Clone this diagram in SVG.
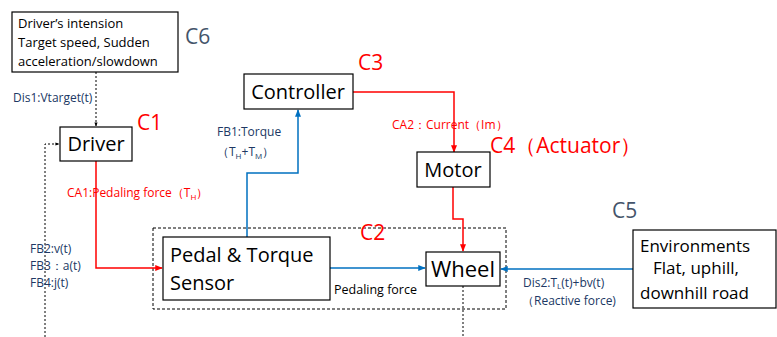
<svg xmlns="http://www.w3.org/2000/svg" width="777" height="337" viewBox="0 0 777 337">
<style>
text{font-family:"Open Sans","Noto Sans","Liberation Sans",sans-serif;}
.box{fill:#fff;stroke:#000;stroke-width:1.2}
.nt{font-size:20px;fill:#000}
.ct{font-size:13px;fill:#000}
.cr{font-size:21px;fill:#ff0000}
.cg{font-size:21px;fill:#44546a}
.lr{font-size:12px;fill:#ff0000}
.lb{font-size:12px;fill:#203864}
.lk{font-size:12.5px;fill:#000}
.red{fill:none;stroke:#ff0000;stroke-width:1.5}
.blue{fill:none;stroke:#0070c0;stroke-width:1.5}
.dot{fill:none;stroke:#000;stroke-width:1;stroke-dasharray:2,2}
</style>
<defs>
<marker id="ar" viewBox="0 0 10 10" refX="9" refY="5" markerWidth="5" markerHeight="5" orient="auto"><path d="M0,1 L10,5 L0,9 z" fill="#ff0000"/></marker>
<marker id="ab" viewBox="0 0 10 10" refX="9" refY="5" markerWidth="5" markerHeight="5" orient="auto"><path d="M0,1 L10,5 L0,9 z" fill="#0070c0"/></marker>
<marker id="ak" viewBox="0 0 10 10" refX="9" refY="5" markerWidth="4" markerHeight="4" orient="auto"><path d="M0,1 L10,5 L0,9 z" fill="#000"/></marker>
</defs>
<rect x="0" y="0" width="777" height="337" fill="#fff"/>

<rect x="153" y="228" width="353" height="81" fill="none" stroke="#000" stroke-width="1" stroke-dasharray="3,2"/>

<g id="connectors">
<path class="dot" d="M96,72 V126" marker-end="url(#ak)"/>
<path class="dot" d="M45,337 V144 H59" marker-end="url(#ak)"/>
<path class="red" d="M96,161 V268 H162" marker-end="url(#ar)"/>
<path class="blue" d="M247,237 V173 H298 V110" marker-end="url(#ab)"/>
<path class="red" d="M353,92 H454 V152" marker-end="url(#ar)"/>
<path class="red" d="M453,187 V219 H463 V251" marker-end="url(#ar)"/>
<path class="blue" d="M330,268 H425" marker-end="url(#ab)"/>
<path class="blue" d="M633,269 H501" marker-end="url(#ab)"/>
<path class="dot" d="M463,286 V337"/>
<text class="lb" x="13" y="102">Dis1:Vtarget(t)</text>
<text class="lr" x="67" y="197">CA1:Pedaling force（T<tspan font-size="8" dy="3">H</tspan><tspan dy="-3">）</tspan></text>
<text class="lb" x="30" y="253">FB2:v(t)</text>
<text class="lb" x="30" y="270">FB3：a(t)</text>
<text class="lb" x="30" y="287">FB4:j(t)</text>
<text class="lb" x="217" y="136">FB1:Torque</text>
<text class="lb" x="217" y="156">（T<tspan font-size="8" dy="3">H</tspan><tspan dy="-3">+T</tspan><tspan font-size="8" dy="3">M</tspan><tspan dy="-3">）</tspan></text>
<text class="lr" x="392" y="129">CA2：Current（Im）</text>
<text class="lk" x="334" y="294">Pedaling force</text>
<text class="lb" x="523" y="287">Dis2:T<tspan font-size="8" dy="2">L</tspan><tspan dy="-2">(t)+bv(t)</tspan></text>
<text class="lb" x="522" y="305">（Reactive force)</text>
</g>

<g id="c6">
<rect class="box" x="12" y="12" width="166" height="60"/>
<text class="ct" x="18" y="28">Driver’s intension</text>
<text class="ct" x="18" y="47">Target speed, Sudden</text>
<text class="ct" x="18" y="66">acceleration/slowdown</text>
<text class="cg" x="185" y="44">C6</text>
</g>

<g id="driver">
<rect class="box" x="60" y="127" width="72" height="34"/>
<text class="nt" x="96" y="151" text-anchor="middle">Driver</text>
<text class="cr" x="137" y="130">C1</text>
</g>

<g id="controller">
<rect class="box" x="244" y="74" width="109" height="35"/>
<text class="nt" x="298" y="99" text-anchor="middle">Controller</text>
<text class="cr" x="358" y="70">C3</text>
</g>

<g id="motor">
<rect class="box" x="417" y="152" width="73" height="35"/>
<text class="nt" x="453" y="177" text-anchor="middle">Motor</text>
<text class="cr" x="490" y="153">C4（Actuator）</text>
</g>

<g id="pedal">
<rect class="box" x="163" y="237" width="167" height="63"/>
<text class="nt" x="170" y="262">Pedal &amp; Torque</text>
<text class="nt" x="170" y="290">Sensor</text>
<text class="cr" x="360" y="240">C2</text>
</g>

<g id="wheel">
<rect class="box" x="426" y="252" width="74" height="34"/>
<text class="nt" x="463" y="277" text-anchor="middle" style="font-size:22px">Wheel</text>
</g>

<g id="environments">
<rect class="box" x="633" y="230" width="143" height="78"/>
<text class="nt" x="640" y="252" style="font-size:17px">Environments</text>
<text class="nt" x="653" y="274" style="font-size:17px">Flat, uphill,</text>
<text class="nt" x="640" y="299" style="font-size:17px">downhill road</text>
<text class="cg" x="612" y="218">C5</text>
</g>
</svg>
